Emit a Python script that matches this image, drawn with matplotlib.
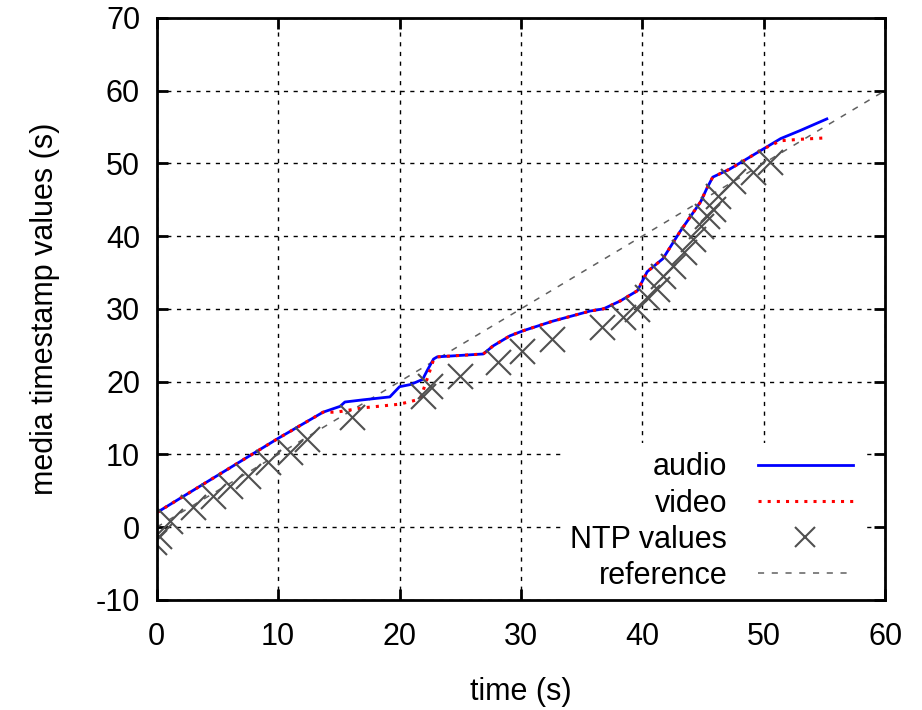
import numpy as np
import matplotlib.pyplot as plt

plt.rcParams['font.family'] = ['Liberation Sans', 'DejaVu Sans']
plt.rcParams['axes.unicode_minus'] = False

# media timestamps (s) against wall-clock time (s)
audio_t = [0, 5, 10, 13.7, 15.1, 15.5, 17.0, 19.2, 19.6, 20.0, 20.9, 21.9, 22.3, 22.8,
           23.1, 26.9, 27.7, 29.1, 30.2, 32.6, 35.7, 36.8, 38.2, 39.6, 40.4, 41.7,
           43.1, 44.8, 45.3, 45.8, 47.2, 50.0, 51.4, 53.0, 55.2]
audio_v = [2.0, 7.1, 12.2, 15.8, 16.6, 17.2, 17.5, 17.9, 18.6, 19.3, 19.6, 20.3, 21.6, 23.1,
           23.4, 23.8, 24.9, 26.3, 27.0, 28.3, 29.7, 30.0, 31.1, 32.5, 35.1, 36.9,
           40.6, 44.7, 46.5, 48.1, 49.2, 52.0, 53.4, 54.5, 56.1]

video_t = [0, 5, 10, 13.7, 14.8, 17.0, 20.0, 21.7, 22.3, 22.8, 23.1, 26.9, 27.7, 29.1,
           30.2, 32.6, 35.7, 36.8, 38.2, 39.6, 40.4, 41.7, 43.1, 44.8, 45.3, 45.8,
           47.2, 50.0, 51.4, 53.0, 55.2]
video_v = [2.0, 7.1, 12.2, 15.8, 15.8, 16.4, 16.9, 17.6, 20.5, 23.0, 23.4, 23.8, 24.9, 26.3,
           27.0, 28.3, 29.7, 30.0, 31.1, 32.5, 35.1, 36.9, 40.6, 44.7, 46.5, 48.1,
           49.2, 52.0, 53.1, 53.3, 53.5]

ntp_t = [-0.2, 0.2, 1.1, 3.0, 4.6, 6.0, 7.5, 9.2, 11.0, 12.4, 16.1, 21.9, 22.5, 25.0,
         28.1, 30.1, 32.6, 36.7, 38.4, 39.6, 40.4, 41.2, 41.7, 42.5, 43.4, 44.2,
         44.8, 45.3, 45.8, 46.2, 47.5, 49.1, 50.5]
ntp_v = [-2.1, -1.2, 0.8, 2.8, 4.3, 5.6, 7.0, 8.9, 10.3, 12.1, 15.1, 18.0, 19.4, 20.8,
         22.7, 24.2, 25.9, 27.5, 28.9, 30.0, 31.6, 32.7, 34.5, 35.9, 37.8, 39.6,
         41.4, 42.8, 43.7, 45.5, 47.5, 48.8, 50.2]

ref_t = [0, 60]
ref_v = [0, 60]

fs = 22

fig = plt.figure(figsize=(9.22, 7.10), dpi=100)
ax = fig.add_axes([0.170, 0.155, 0.790, 0.820])

ax.plot(audio_t, audio_v, color='#0000ff', lw=2.0, label='audio', zorder=3)
ax.plot(video_t, video_v, color='#ff0000', lw=2.2, ls=(0, (1, 2)), label='video', zorder=4)
ax.plot(ntp_t, ntp_v, ls='none', marker='x', ms=18, mew=1.5, color='#505050',
        label='NTP values', zorder=5)
ax.plot(ref_t, ref_v, color='#606060', lw=1.1, ls=(0, (4, 5)), label='reference', zorder=2)

ax.set_xlim(0, 60)
ax.set_ylim(-10, 70)
ax.set_xticks(np.arange(0, 61, 10))
ax.set_yticks(np.arange(-10, 71, 10))
ax.grid(True, color='black', lw=1.0, ls=(0, (3, 4)))
ax.tick_params(direction='in', length=8, width=2, top=True, right=True,
               labelsize=fs, pad=12)
ax.tick_params(axis='x', pad=16)
for s in ax.spines.values():
    s.set_linewidth(2)
    s.set_zorder(10)

ax.set_xlabel('time (s)', fontsize=fs, labelpad=18)
ax.set_ylabel('media timestamp values (s)', fontsize=fs, labelpad=26)

leg = ax.legend(loc='lower right', bbox_to_anchor=(0.968, 0.0), markerfirst=False,
                fontsize=fs, handlelength=3.1, handletextpad=1.0, labelspacing=0.2,
                borderpad=0.3, borderaxespad=0, frameon=True, fancybox=False)
leg.get_frame().set_facecolor('white')
leg.get_frame().set_edgecolor('none')
leg.get_frame().set_alpha(1.0)
leg.set_zorder(6)
for t in leg.get_texts():
    t.set_ha('right')
leg.legend_handles[2].set_markersize(14)

fig.savefig('out.png', dpi=100)
